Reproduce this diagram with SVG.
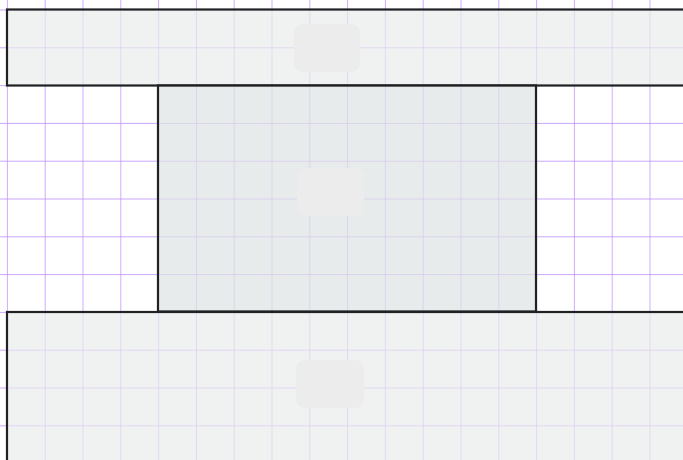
<svg xmlns="http://www.w3.org/2000/svg" width="683" height="460" viewBox="0 0 683 460">
  <defs>
    <pattern id="grid" x="6.9" y="9.5" width="37.8" height="37.8" patternUnits="userSpaceOnUse">
      <path d="M0 0 H37.8 M0 0 V37.8" fill="none" stroke="#b98aff" stroke-width="1.4"/>
    </pattern>
  </defs>
  <style>
    .band { fill: #e9ebeb; fill-opacity: 0.7; stroke: #1f2122; stroke-width: 2.2; }
    .core { fill: #dfe3e5; fill-opacity: 0.72; stroke: #1f2122; stroke-width: 2.2; }
    .ph { fill: #ececec; }
  </style>
  <rect width="683" height="460" fill="#ffffff"/>
  <rect width="683" height="460" fill="url(#grid)"/>
  <g id="top-band">
    <rect class="band" x="7" y="9.5" width="690" height="76"/>
    <rect class="ph" x="294" y="24" width="66" height="48" rx="9"/>
  </g>
  <g id="center-block">
    <rect class="core" x="158" y="85.5" width="378" height="226"/>
    <rect class="ph" x="297" y="168" width="67" height="48" rx="9"/>
  </g>
  <g id="bottom-band">
    <rect class="band" x="7" y="312" width="690" height="160"/>
    <rect class="ph" x="296" y="360" width="68" height="48" rx="9"/>
  </g>
  <g id="connectors"></g>
</svg>
